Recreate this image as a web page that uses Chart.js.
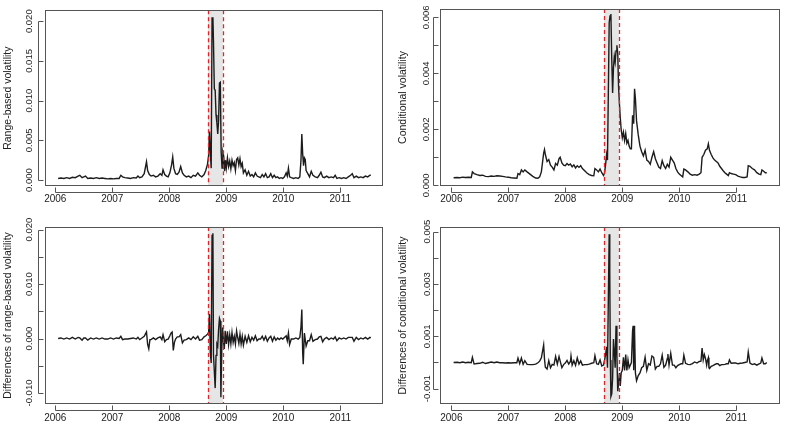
<!DOCTYPE html>
<html><head><meta charset="utf-8">
<script src="https://cdn.jsdelivr.net/npm/chart.js@4/dist/chart.umd.min.js"></script>
<style>
html,body{margin:0;padding:0;background:#fff;}
#wrap{position:relative;width:786px;height:434px;overflow:hidden;}
#wrap canvas{position:absolute;}
</style></head><body>
<div id="wrap">
<canvas id="c1" width="393" height="217" style="left:0;top:0"></canvas>
<canvas id="c2" width="393" height="217" style="left:393px;top:0"></canvas>
<canvas id="c3" width="393" height="217" style="left:0;top:217px"></canvas>
<canvas id="c4" width="393" height="217" style="left:393px;top:217px"></canvas>
</div>
<script>
// ---------- data ----------
const yearTicks = [2006, 2007, 2008, 2009, 2010, 2011];
const yearLabels = ['2006', '2007', '2008', '2009', '2010', '2011'];
const crisisWindow = [2008.68, 2008.94];

// Range-based volatility
const p1Years = [2006.05,2006.10,2006.15,2006.20,2006.25,2006.30,2006.35,2006.40,2006.43,2006.47,2006.50,2006.53,2006.57,2006.62,2006.67,2006.72,2006.77,2006.82,2006.87,2006.92,2006.97,2007.02,2007.07,2007.12,2007.15,2007.18,2007.22,2007.27,2007.32,2007.37,2007.42,2007.45,2007.48,2007.52,2007.56,2007.60,2007.62,2007.65,2007.68,2007.72,2007.76,2007.80,2007.84,2007.87,2007.89,2007.92,2007.95,2007.98,2008.01,2008.04,2008.06,2008.08,2008.11,2008.14,2008.17,2008.20,2008.23,2008.26,2008.30,2008.34,2008.38,2008.42,2008.46,2008.50,2008.53,2008.57,2008.61,2008.64,2008.67,2008.69,2008.705,2008.72,2008.735,2008.75,2008.765,2008.775,2008.79,2008.805,2008.82,2008.835,2008.85,2008.865,2008.88,2008.895,2008.91,2008.925,2008.94,2008.955,2008.97,2008.985,2009.00,2009.02,2009.04,2009.06,2009.08,2009.10,2009.12,2009.14,2009.16,2009.18,2009.20,2009.22,2009.24,2009.26,2009.28,2009.30,2009.33,2009.36,2009.39,2009.42,2009.45,2009.48,2009.51,2009.54,2009.57,2009.60,2009.63,2009.66,2009.69,2009.72,2009.75,2009.78,2009.81,2009.84,2009.87,2009.90,2009.93,2009.96,2009.99,2010.02,2010.05,2010.07,2010.09,2010.11,2010.14,2010.18,2010.22,2010.26,2010.29,2010.31,2010.325,2010.34,2010.355,2010.37,2010.385,2010.40,2010.43,2010.46,2010.49,2010.52,2010.56,2010.60,2010.63,2010.66,2010.69,2010.72,2010.76,2010.80,2010.84,2010.88,2010.91,2010.94,2010.98,2011.02,2011.06,2011.10,2011.14,2011.18,2011.21,2011.24,2011.28,2011.32,2011.36,2011.40,2011.44,2011.48,2011.52,2011.535];
const p1Values = [0.0002,0.00025,0.0002,0.0003,0.0002,0.00035,0.0003,0.0005,0.0006,0.0003,0.0004,0.0005,0.0002,0.00025,0.0002,0.0003,0.0002,0.00025,0.0002,0.00015,0.0002,0.00015,0.0002,0.0002,0.0006,0.0004,0.0003,0.00025,0.0002,0.0003,0.00025,0.0005,0.0003,0.0004,0.0008,0.0023,0.0012,0.0007,0.0005,0.0006,0.0004,0.0005,0.0008,0.0006,0.0013,0.0007,0.0005,0.0004,0.0009,0.0019,0.0029,0.0015,0.0008,0.0007,0.001,0.0017,0.0009,0.0006,0.0004,0.0005,0.0003,0.0006,0.0005,0.0009,0.0006,0.0004,0.0007,0.0012,0.002,0.0031,0.0061,0.0035,0.0015,0.0204,0.0205,0.0175,0.0115,0.0113,0.0082,0.0072,0.0058,0.0075,0.0122,0.0123,0.0035,0.0015,0.0035,0.003,0.0011,0.0025,0.0015,0.0028,0.0017,0.0024,0.0014,0.0025,0.0018,0.0022,0.0012,0.0026,0.0028,0.0019,0.0027,0.0017,0.0021,0.0009,0.0013,0.0006,0.0011,0.0005,0.0007,0.0004,0.0009,0.0005,0.0004,0.0003,0.0007,0.0004,0.0008,0.0003,0.0004,0.0008,0.0003,0.0006,0.0003,0.0004,0.0002,0.0003,0.0002,0.0004,0.0009,0.0005,0.0015,0.0004,0.0003,0.0002,0.0003,0.0002,0.0004,0.0025,0.0058,0.0033,0.0018,0.0028,0.0026,0.0012,0.0008,0.0004,0.0011,0.0006,0.0004,0.0003,0.0006,0.001,0.0004,0.0003,0.0005,0.0003,0.0004,0.0003,0.0006,0.0002,0.0003,0.0002,0.0003,0.0002,0.0004,0.0006,0.0008,0.0003,0.0005,0.0003,0.0004,0.0003,0.0005,0.0004,0.0006,0.0006];

// Conditional volatility
const p2Years = [2006.04,2006.10,2006.15,2006.20,2006.25,2006.30,2006.35,2006.37,2006.40,2006.45,2006.50,2006.55,2006.60,2006.65,2006.70,2006.75,2006.80,2006.85,2006.90,2006.95,2007.00,2007.05,2007.10,2007.15,2007.17,2007.20,2007.23,2007.26,2007.29,2007.33,2007.38,2007.43,2007.48,2007.52,2007.55,2007.58,2007.62,2007.635,2007.65,2007.68,2007.71,2007.74,2007.77,2007.80,2007.83,2007.86,2007.89,2007.91,2007.94,2007.97,2008.00,2008.03,2008.06,2008.09,2008.12,2008.15,2008.18,2008.21,2008.24,2008.27,2008.30,2008.34,2008.38,2008.42,2008.46,2008.50,2008.52,2008.55,2008.58,2008.61,2008.64,2008.67,2008.69,2008.71,2008.725,2008.74,2008.755,2008.77,2008.785,2008.80,2008.815,2008.83,2008.845,2008.86,2008.875,2008.89,2008.905,2008.92,2008.935,2008.95,2008.965,2008.98,2009.00,2009.02,2009.04,2009.06,2009.08,2009.10,2009.12,2009.14,2009.16,2009.18,2009.20,2009.215,2009.23,2009.25,2009.28,2009.31,2009.34,2009.37,2009.40,2009.43,2009.46,2009.49,2009.52,2009.55,2009.58,2009.61,2009.64,2009.67,2009.70,2009.73,2009.76,2009.79,2009.82,2009.85,2009.88,2009.91,2009.94,2009.97,2010.00,2010.03,2010.06,2010.08,2010.11,2010.15,2010.19,2010.23,2010.27,2010.31,2010.35,2010.38,2010.40,2010.43,2010.46,2010.49,2010.51,2010.53,2010.56,2010.59,2010.62,2010.65,2010.68,2010.71,2010.74,2010.77,2010.80,2010.83,2010.86,2010.88,2010.91,2010.95,2010.99,2011.03,2011.07,2011.11,2011.15,2011.19,2011.21,2011.24,2011.28,2011.32,2011.36,2011.40,2011.43,2011.45,2011.48,2011.51,2011.535];
const p2Values = [0.00027,0.00028,0.00027,0.00029,0.00028,0.00029,0.00028,0.00048,0.00042,0.00038,0.00035,0.00036,0.00032,0.00031,0.00033,0.00032,0.00034,0.00033,0.00032,0.0003,0.00029,0.00027,0.00026,0.00025,0.00042,0.00038,0.00055,0.00048,0.00055,0.00048,0.0004,0.00032,0.00026,0.00025,0.0003,0.00048,0.00115,0.00128,0.0011,0.00085,0.00092,0.00072,0.00065,0.00055,0.00078,0.00072,0.00095,0.001,0.0008,0.00072,0.0007,0.00078,0.00072,0.00076,0.00066,0.00073,0.00062,0.0007,0.00064,0.0007,0.0006,0.00052,0.00044,0.00038,0.00035,0.00034,0.0006,0.00055,0.00048,0.00058,0.00045,0.00035,0.00045,0.0008,0.0011,0.0009,0.0033,0.0058,0.00605,0.00612,0.0045,0.0033,0.0042,0.0046,0.0044,0.0048,0.005,0.0047,0.0035,0.0029,0.0024,0.002,0.0017,0.0019,0.0016,0.00185,0.0015,0.0016,0.0014,0.0013,0.0013,0.0025,0.0022,0.00345,0.0031,0.0023,0.0018,0.0014,0.0012,0.00105,0.00125,0.0009,0.00085,0.00075,0.001,0.0012,0.00095,0.0008,0.00065,0.0006,0.00088,0.0007,0.0006,0.00075,0.00065,0.001,0.0009,0.0008,0.0006,0.00048,0.0004,0.00035,0.0003,0.00058,0.00055,0.00048,0.0004,0.00036,0.00038,0.00036,0.0004,0.00045,0.001,0.0011,0.00125,0.0013,0.00148,0.00125,0.0011,0.00098,0.0009,0.00085,0.0008,0.00068,0.0006,0.00052,0.00045,0.0004,0.00035,0.00045,0.00042,0.0004,0.00038,0.00033,0.0003,0.00028,0.00028,0.0003,0.0007,0.00068,0.0006,0.00055,0.00045,0.0004,0.00038,0.00055,0.0005,0.00045,0.00045];

// Differences of range-based volatility
const p3Years = [2006.05,2006.10,2006.15,2006.20,2006.25,2006.30,2006.35,2006.40,2006.43,2006.47,2006.50,2006.53,2006.57,2006.62,2006.67,2006.72,2006.77,2006.82,2006.87,2006.92,2006.97,2007.02,2007.07,2007.12,2007.15,2007.18,2007.22,2007.27,2007.32,2007.37,2007.42,2007.45,2007.48,2007.52,2007.56,2007.58,2007.60,2007.62,2007.64,2007.66,2007.68,2007.72,2007.76,2007.80,2007.84,2007.87,2007.89,2007.92,2007.95,2007.98,2008.01,2008.03,2008.05,2008.07,2008.09,2008.11,2008.14,2008.17,2008.20,2008.23,2008.26,2008.30,2008.34,2008.38,2008.42,2008.46,2008.50,2008.53,2008.57,2008.61,2008.64,2008.67,2008.69,2008.705,2008.72,2008.735,2008.75,2008.765,2008.775,2008.79,2008.805,2008.82,2008.835,2008.85,2008.865,2008.88,2008.895,2008.905,2008.92,2008.935,2008.95,2008.965,2008.98,2009.00,2009.02,2009.04,2009.06,2009.08,2009.10,2009.12,2009.14,2009.16,2009.18,2009.20,2009.22,2009.24,2009.26,2009.28,2009.30,2009.33,2009.36,2009.39,2009.42,2009.45,2009.48,2009.51,2009.54,2009.57,2009.60,2009.63,2009.66,2009.69,2009.72,2009.75,2009.78,2009.81,2009.84,2009.87,2009.90,2009.93,2009.96,2009.99,2010.02,2010.05,2010.07,2010.09,2010.11,2010.14,2010.18,2010.22,2010.26,2010.29,2010.31,2010.325,2010.34,2010.35,2010.37,2010.385,2010.40,2010.43,2010.46,2010.49,2010.52,2010.56,2010.60,2010.63,2010.66,2010.69,2010.72,2010.76,2010.80,2010.84,2010.88,2010.91,2010.94,2010.98,2011.02,2011.06,2011.10,2011.14,2011.18,2011.21,2011.24,2011.28,2011.32,2011.36,2011.40,2011.44,2011.48,2011.52,2011.535];
const p3Values = [0,0.0001,-0.0001,0.0001,-0.0001,0.0002,-0.0001,0.0002,0.0001,-0.0003,0.0001,0.0001,-0.0003,0.0001,-0.0001,0.0001,-0.0001,0.0001,-0.0001,-0.0001,0.0001,-0.0001,0.0001,0,0.0004,-0.0002,-0.0001,-0.0001,0,0.0001,-0.0001,0.0002,-0.0002,0.0001,0.0004,0.0008,0.0012,-0.0011,-0.0019,-0.0002,-0.0002,0.0001,-0.0002,0.0001,0.0003,-0.0002,0.0007,-0.0006,-0.0002,-0.0001,0.0005,0.001,0.0012,-0.0022,-0.0007,-0.0001,0.0003,0.0003,0.0007,-0.0008,-0.0003,-0.0002,0.0001,-0.0002,0.0003,-0.0001,0.0004,-0.0003,-0.0002,0.0003,0.0005,0.0008,0.0011,0.0045,-0.0026,-0.0045,0.0189,0.0193,-0.003,-0.006,-0.0091,-0.0031,-0.001,-0.0014,0.0017,0.0037,0.0032,-0.0108,-0.002,0.002,-0.0005,-0.0019,0.0014,-0.001,0.0013,-0.0011,0.0007,-0.001,0.0011,-0.0007,0.0004,-0.001,0.0014,0.0002,-0.0009,0.0008,-0.001,0.0004,-0.0012,0.0004,-0.0007,0.0005,-0.0006,0.0002,-0.0003,0.0005,-0.0004,-0.0001,-0.0001,0.0004,-0.0003,0.0004,-0.0005,0.0001,0.0004,-0.0005,0.0003,-0.0003,0.0001,-0.0002,0.0001,-0.0001,0.0002,0.0005,-0.0004,0.001,-0.0011,-0.0001,-0.0001,0.0001,-0.0001,0.0002,0.0021,0.0053,-0.0025,-0.0047,0.001,-0.0002,-0.0014,-0.0004,-0.0004,0.0007,-0.0005,-0.0002,-0.0001,0.0003,0.0004,-0.0006,-0.0001,0.0002,-0.0002,0.0001,-0.0001,0.0003,-0.0004,0.0001,-0.0001,0.0001,-0.0001,0.0002,0.0002,0.0002,-0.0005,0.0002,-0.0002,0.0001,-0.0001,0.0002,-0.0001,0.0002,0.0001];

// Differences of conditional volatility
const p4Years = [2006.04,2006.10,2006.15,2006.20,2006.25,2006.30,2006.35,2006.37,2006.40,2006.45,2006.50,2006.55,2006.60,2006.65,2006.70,2006.75,2006.80,2006.85,2006.90,2006.95,2007.00,2007.05,2007.10,2007.15,2007.17,2007.20,2007.23,2007.26,2007.29,2007.33,2007.38,2007.43,2007.48,2007.52,2007.55,2007.58,2007.62,2007.635,2007.65,2007.68,2007.71,2007.74,2007.77,2007.80,2007.83,2007.86,2007.89,2007.91,2007.94,2007.97,2008.00,2008.03,2008.06,2008.09,2008.10,2008.12,2008.15,2008.18,2008.21,2008.24,2008.27,2008.30,2008.34,2008.38,2008.42,2008.46,2008.50,2008.52,2008.55,2008.58,2008.61,2008.64,2008.67,2008.69,2008.71,2008.725,2008.74,2008.755,2008.77,2008.78,2008.79,2008.80,2008.815,2008.83,2008.845,2008.86,2008.875,2008.89,2008.905,2008.92,2008.935,2008.95,2008.965,2008.98,2009.00,2009.02,2009.04,2009.06,2009.08,2009.10,2009.12,2009.14,2009.16,2009.18,2009.19,2009.20,2009.21,2009.215,2009.23,2009.25,2009.28,2009.31,2009.34,2009.37,2009.40,2009.43,2009.46,2009.49,2009.52,2009.55,2009.58,2009.61,2009.64,2009.67,2009.70,2009.73,2009.76,2009.79,2009.80,2009.82,2009.85,2009.88,2009.91,2009.94,2009.97,2010.00,2010.03,2010.06,2010.08,2010.11,2010.15,2010.19,2010.23,2010.27,2010.31,2010.35,2010.38,2010.40,2010.42,2010.44,2010.46,2010.48,2010.49,2010.51,2010.52,2010.53,2010.56,2010.59,2010.62,2010.65,2010.68,2010.71,2010.74,2010.77,2010.80,2010.83,2010.86,2010.88,2010.91,2010.95,2010.99,2011.03,2011.07,2011.11,2011.15,2011.19,2011.21,2011.24,2011.28,2011.32,2011.36,2011.40,2011.43,2011.45,2011.48,2011.51,2011.535];
const p4Values = [0,0.00001,-0.00001,0.00002,-0.00001,0.00001,-0.00001,0.0002,-0.00006,-0.00004,-0.00003,0.00001,-0.00004,-0.00001,0.00002,-0.00001,0.00002,-0.00001,-0.00001,-0.00002,-0.00001,-0.00002,-0.00001,-0.00001,0.00017,-0.00004,0.00017,-0.00007,0.00007,-0.00007,-0.00008,-0.00008,-0.00006,-0.00001,0.00005,0.00018,0.00067,0.00013,-0.00018,-0.00025,0.00007,-0.0002,-0.00007,-0.0001,0.00023,-0.00006,0.00023,0.00005,-0.0002,-0.00008,-0.00002,0.00008,-0.00006,0.00004,0.00025,-0.0001,0.00007,-0.00011,0.00018,-0.00006,0.00006,-0.0001,-0.00008,-0.00008,-0.00006,-0.00003,-0.00001,0.00026,-0.00005,-0.00007,0.0001,-0.00013,-0.0001,0.0001,0.00035,0.0006,-0.0002,0.0024,0.0049,0.0035,0.0001,-0.0013,-0.0012,-0.0006,0.0009,0.0004,-0.0002,0.0014,0.0003,-0.0011,-0.0008,-0.0004,-0.0009,-0.0004,-0.0003,0.0002,-0.0003,0.0003,-0.0003,0.0001,-0.0002,-0.0001,0,0.0012,0.0014,-0.0003,0.0014,0.0012,-0.0004,-0.0007,-0.0005,-0.0004,-0.0002,-0.00015,0.0002,-0.0003,-0.00005,-0.0001,0.00025,0.0002,-0.00025,-0.00015,-0.00015,-0.00005,0.00028,-0.00018,-0.0001,0.00015,0.00032,-0.0001,0.00035,-0.0001,-0.0001,-0.0002,-0.00012,-0.00008,-0.00005,-0.00005,0.00028,-0.00003,-0.00007,-0.00008,-0.00004,0.00002,-0.00002,0.00004,0.00005,0.00055,0.0001,0.0003,0.00015,-0.0001,0.00005,0.00018,-0.0002,-0.00023,-0.00015,-0.00012,-0.00008,-0.00005,-0.00005,-0.00012,-0.00008,-0.00008,-0.00007,-0.00005,-0.00005,0.0001,-0.00003,-0.00002,-0.00002,-0.00005,-0.00003,-0.00002,0,0.00002,0.0004,-0.00002,-0.00008,-0.00005,-0.0001,-0.00005,-0.00002,0.00017,-0.00005,-0.00005,0];

// y-axis ticks and labels
const p1YTicks = [0, 0.005, 0.010, 0.015, 0.020];
const p1YLabels = ['0.000', '0.005', '0.010', '0.015', '0.020'];
const p2YTicks = [0, 0.001, 0.002, 0.003, 0.004, 0.005, 0.006];
const p2YLabels = ['0.000', '', '0.002', '', '0.004', '', '0.006'];
const p3YTicks = [-0.010, -0.005, 0, 0.005, 0.010, 0.015, 0.020];
const p3YLabels = ['-0.010', '', '0.000', '', '0.010', '', '0.020'];
const p4YTicks = [-0.001, 0, 0.001, 0.002, 0.003, 0.004, 0.005];
const p4YLabels = ['-0.001', '', '0.001', '', '0.003', '', '0.005'];

// ---------- drawing ----------
const FONT = "'Liberation Sans', Arial, sans-serif";
const TEXT = '#222';
const AXIS = '#555';

const rStyle = {
  id: 'rStyle',
  beforeDatasetsDraw(chart) {
    const {ctx, chartArea: a, scales: {x}} = chart;
    const x0 = x.getPixelForValue(crisisWindow[0]);
    const x1 = x.getPixelForValue(crisisWindow[1]);
    ctx.save();
    ctx.fillStyle = '#e6e6e6';
    ctx.fillRect(x0, a.top, x1 - x0, a.bottom - a.top);
    ctx.restore();
  },
  afterDatasetsDraw(chart) {
    const {ctx, chartArea: a, scales: {x}} = chart;
    ctx.save();
    ctx.strokeStyle = '#e0262b';
    ctx.lineWidth = 1.3;
    ctx.setLineDash([4, 3]);
    crisisWindow.forEach(v => {
      const px = Math.round(x.getPixelForValue(v)) + 0.5;
      ctx.beginPath();
      ctx.moveTo(px, a.top);
      ctx.lineTo(px, a.bottom);
      ctx.stroke();
    });
    ctx.restore();
  },
  afterDraw(chart) {
    const {ctx, chartArea: a, scales: {x, y}} = chart;
    ctx.save();
    ctx.strokeStyle = AXIS;
    ctx.lineWidth = 1;
    const L = Math.round(a.left) - 0.5, R = Math.round(a.right) - 0.5;
    const T = Math.round(a.top) + 0.5, B = Math.round(a.bottom) - 0.5;
    ctx.strokeRect(L, T, R - L, B - T);
    // x axis (detached, R style)
    const ay = B + 7;
    const xt = x.ticks.map(t => Math.round(x.getPixelForValue(t.value)) + 0.5);
    ctx.beginPath();
    ctx.moveTo(xt[0], ay); ctx.lineTo(xt[xt.length - 1], ay);
    xt.forEach(px => { ctx.moveTo(px, ay); ctx.lineTo(px, ay - 5); });
    ctx.stroke();
    // y axis
    const ax = L - 7;
    const yt = y.ticks.map(t => Math.round(y.getPixelForValue(t.value)) + 0.5);
    ctx.beginPath();
    ctx.moveTo(ax, yt[0]); ctx.lineTo(ax, yt[yt.length - 1]);
    yt.forEach(py => { ctx.moveTo(ax, py); ctx.lineTo(ax + 5, py); });
    ctx.stroke();
    ctx.restore();
  }
};

function makeChart(id, years, values, cfg) {
  const pts = years.map((yr, i) => ({x: yr, y: values[i]}));
  return new Chart(document.getElementById(id), {
    type: 'line',
    data: {datasets: [{data: pts, borderColor: '#1c1c1c', borderWidth: 1.4, pointRadius: 0, tension: 0, fill: false}]},
    options: {
      responsive: false,
      animation: false,
      devicePixelRatio: 1,
      layout: {padding: {top: cfg.top, right: cfg.right, left: 0, bottom: 0}},
      plugins: {legend: {display: false}, tooltip: {enabled: false}},
      scales: {
        x: {
          type: 'linear', min: cfg.xMin, max: cfg.xMax,
          grid: {display: false, drawTicks: false}, border: {display: false},
          ticks: {autoSkip: false, maxRotation: 0, padding: cfg.xPad, color: TEXT, font: {family: FONT, size: 10},
                  callback: (v, i) => yearLabels[i]},
          afterBuildTicks: s => { s.ticks = yearTicks.map(v => ({value: v})); },
          afterFit: s => { s.height = cfg.xH; }
        },
        y: {
          min: cfg.yMin, max: cfg.yMax,
          grid: {display: false, drawTicks: false}, border: {display: false},
          ticks: {autoSkip: false, minRotation: 90, maxRotation: 90, crossAlign: 'center', padding: cfg.yPad,
                  color: TEXT, font: {family: FONT, size: 9.5},
                  callback: (v, i) => cfg.yLabels[i]},
          afterBuildTicks: s => { s.ticks = cfg.yTicks.map(v => ({value: v})); },
          afterFit: s => { s.width = cfg.yW; },
          title: {display: true, text: cfg.title, color: TEXT, font: {family: FONT, size: 10.5},
                  padding: {top: cfg.tPad, bottom: 0}}
        }
      }
    },
    plugins: [rStyle]
  });
}

makeChart('c1', p1Years, p1Values, {
  top: 9, right: 10, xH: 31, yW: 46, xMin: 2005.837, xMax: 2011.749,
  yMin: -0.00075, yMax: 0.021375, yTicks: p1YTicks, yLabels: p1YLabels,
  title: 'Range-based volatility', xPad: 7.5, yPad: 4.6, tPad: 1.7
});
makeChart('c2', p2Years, p2Values, {
  top: 9, right: 6, xH: 31, yW: 48, xMin: 2005.819, xMax: 2011.767,
  yMin: -0.000025, yMax: 0.006296, yTicks: p2YTicks, yLabels: p2YLabels,
  title: 'Conditional volatility', xPad: 7.5, yPad: 2.4, tPad: 3.7
});
makeChart('c3', p3Years, p3Values, {
  top: 10, right: 10, xH: 30, yW: 46, xMin: 2005.837, xMax: 2011.749,
  yMin: -0.012018, yMax: 0.020459, yTicks: p3YTicks, yLabels: p3YLabels,
  title: 'Differences of range-based volatility', xPad: 8, yPad: 2.8, tPad: 1.7
});
makeChart('c4', p4Years, p4Values, {
  top: 10, right: 6, xH: 30, yW: 48, xMin: 2005.819, xMax: 2011.767,
  yMin: -0.001586, yMax: 0.005178, yTicks: p4YTicks, yLabels: p4YLabels,
  title: 'Differences of conditional volatility', xPad: 8, yPad: 0, tPad: 3.7
});
</script>
</body></html>
